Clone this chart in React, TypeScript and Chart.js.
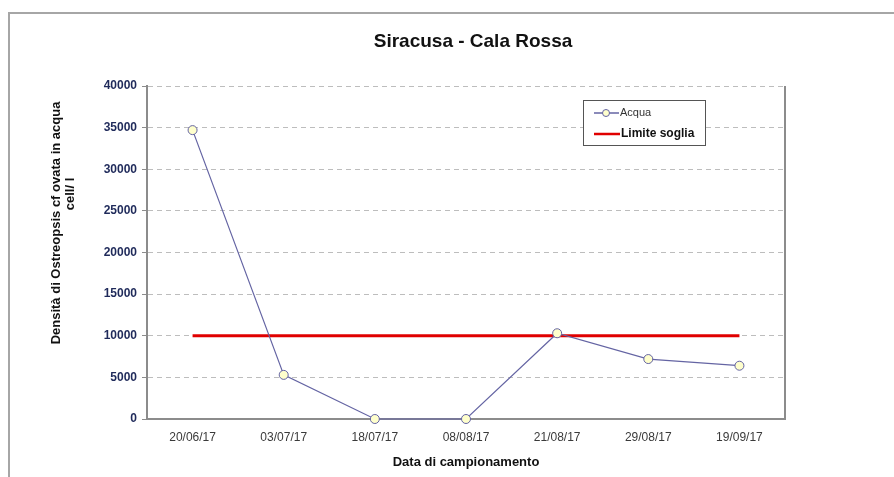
import React, { useEffect, useRef } from "react";
import { Chart, registerables } from "chart.js";

Chart.register(...registerables);

const chartTitle = "Siracusa - Cala Rossa";
const categories = ["20/06/17", "03/07/17", "18/07/17", "08/08/17", "21/08/17", "29/08/17", "19/09/17"];
const acqua = [34700, 5300, 0, 0, 10300, 7200, 6400];
const limiteSoglia = [10000, 10000, 10000, 10000, 10000, 10000, 10000];
const seriesNames = ["Acqua", "Limite soglia"];
const yMin = 0;
const yMax = 40000;
const yStep = 5000;
const yTitleLines = ["Densità di Ostreopsis cf ovata in acqua", "cell/ l"];
const xTitle = "Data di campionamento";

const FONT = "'Liberation Sans', Arial, Helvetica, sans-serif";
const ACQUA_COLOR = "#6464a3";
const MARKER_FILL = "#ffffcc";
const RED = "#e00000";
const AXIS_GRAY = "#8c8c8c";

const decorPlugin = {
  id: "decor",
  beforeDraw(chart: any) {
    const ctx = chart.ctx;
    ctx.save();
    ctx.fillStyle = "#ffffff";
    ctx.fillRect(0, 0, chart.width, chart.height);
    // outer frame
    ctx.strokeStyle = "#a6a6a6";
    ctx.lineWidth = 2;
    ctx.beginPath();
    ctx.moveTo(9, chart.height);
    ctx.lineTo(9, 13);
    ctx.lineTo(chart.width, 13);
    ctx.stroke();
    ctx.restore();
  },
  beforeDatasetsDraw(chart: any) {
    const ctx = chart.ctx;
    const a = chart.chartArea;
    ctx.save();
    // right plot border
    ctx.strokeStyle = AXIS_GRAY;
    ctx.lineWidth = 2;
    ctx.beginPath();
    ctx.moveTo(a.right, a.top);
    ctx.lineTo(a.right, a.bottom);
    ctx.stroke();
    ctx.restore();
  },
  afterDatasetsDraw(chart: any) {
    const ctx = chart.ctx;
    const a = chart.chartArea;
    ctx.save();

    // title
    ctx.fillStyle = "#111111";
    ctx.font = `bold 19px ${FONT}`;
    ctx.textAlign = "center";
    ctx.textBaseline = "alphabetic";
    ctx.fillText(chartTitle, 473, 47);

    // y axis title (rotated)
    ctx.save();
    ctx.translate(56, 223);
    ctx.rotate(-Math.PI / 2);
    ctx.font = `bold 13px ${FONT}`;
    ctx.textAlign = "center";
    ctx.textBaseline = "middle";
    ctx.fillText(yTitleLines[0], 0, 0);
    ctx.restore();
    ctx.save();
    ctx.translate(70, 194);
    ctx.rotate(-Math.PI / 2);
    ctx.font = `bold 13px ${FONT}`;
    ctx.textAlign = "center";
    ctx.textBaseline = "middle";
    ctx.fillText(yTitleLines[1], 0, 0);
    ctx.restore();

    // x axis title
    ctx.font = `bold 13px ${FONT}`;
    ctx.textAlign = "center";
    ctx.textBaseline = "middle";
    ctx.fillText(xTitle, (a.left + a.right) / 2, 462);

    // legend box
    const bx = 583.5, by = 100.5, bw = 122, bh = 45;
    ctx.fillStyle = "#ffffff";
    ctx.fillRect(bx, by, bw, bh);
    ctx.strokeStyle = "#555555";
    ctx.lineWidth = 1;
    ctx.strokeRect(bx, by, bw, bh);

    // Acqua entry
    ctx.strokeStyle = ACQUA_COLOR;
    ctx.lineWidth = 1.5;
    ctx.beginPath();
    ctx.moveTo(594, 113);
    ctx.lineTo(619, 113);
    ctx.stroke();
    ctx.beginPath();
    ctx.arc(606, 113, 3.5, 0, Math.PI * 2);
    ctx.fillStyle = MARKER_FILL;
    ctx.fill();
    ctx.lineWidth = 1;
    ctx.stroke();
    ctx.fillStyle = "#333333";
    ctx.font = `11px ${FONT}`;
    ctx.textAlign = "left";
    ctx.textBaseline = "middle";
    ctx.fillText(seriesNames[0], 620, 113);

    // Limite soglia entry
    ctx.strokeStyle = RED;
    ctx.lineWidth = 2.5;
    ctx.beginPath();
    ctx.moveTo(594, 134);
    ctx.lineTo(620, 134);
    ctx.stroke();
    ctx.fillStyle = "#111111";
    ctx.font = `bold 12px ${FONT}`;
    ctx.fillText(seriesNames[1], 621, 134);
    ctx.restore();
  },
};

export default function App() {
  const canvasRef = useRef<HTMLCanvasElement | null>(null);

  useEffect(() => {
    if (!canvasRef.current) return;
    Chart.defaults.font.family = FONT;
    const chart = new Chart(canvasRef.current, {
      type: "line",
      data: {
        labels: categories,
        datasets: [
          {
            label: seriesNames[0],
            data: acqua,
            borderColor: ACQUA_COLOR,
            borderWidth: 1.2,
            pointRadius: 4.5,
            pointBackgroundColor: MARKER_FILL,
            pointBorderColor: ACQUA_COLOR,
            pointBorderWidth: 1,
            tension: 0,
            order: 0,
            clip: false,
          },
          {
            label: seriesNames[1],
            data: limiteSoglia,
            borderColor: RED,
            borderWidth: 3,
            pointRadius: 0,
            tension: 0,
            order: 1,
          },
        ],
      },
      options: {
        responsive: false,
        animation: false,
        devicePixelRatio: 1,
        layout: { padding: { top: 86, right: 109, left: 0, bottom: 0 } },
        plugins: {
          legend: { display: false },
          title: { display: false },
          tooltip: { enabled: false },
        },
        scales: {
          x: {
            offset: true,
            grid: { display: false, drawTicks: false },
            border: { display: true, color: AXIS_GRAY, width: 2 },
            ticks: {
              color: "#3a3a3a",
              font: { size: 12, family: FONT },
              padding: 11,
              autoSkip: false,
              maxRotation: 0,
            },
            afterFit: (s: any) => {
              s.height = 58;
            },
          },
          y: {
            min: yMin,
            max: yMax,
            border: { display: true, color: AXIS_GRAY, width: 2, dash: [5, 4] },
            grid: {
              color: "#bdbdbd",
              lineWidth: 1,
              drawTicks: true,
              tickLength: 5,
              tickColor: AXIS_GRAY,
            },
            ticks: {
              stepSize: yStep,
              color: "#1f2a5a",
              font: { size: 12, weight: "bold", family: FONT },
              padding: 5,
              callback: (v: any) => String(v),
            },
            afterFit: (s: any) => {
              s.width = 147;
            },
          },
        },
      },
      plugins: [decorPlugin],
    } as any);
    return () => chart.destroy();
  }, []);

  return (
    <div style={{ position: "fixed", left: 0, top: 0, width: 894, height: 477, background: "#fff" }}>
      <canvas ref={canvasRef} width={894} height={477} style={{ display: "block" }} />
    </div>
  );
}
